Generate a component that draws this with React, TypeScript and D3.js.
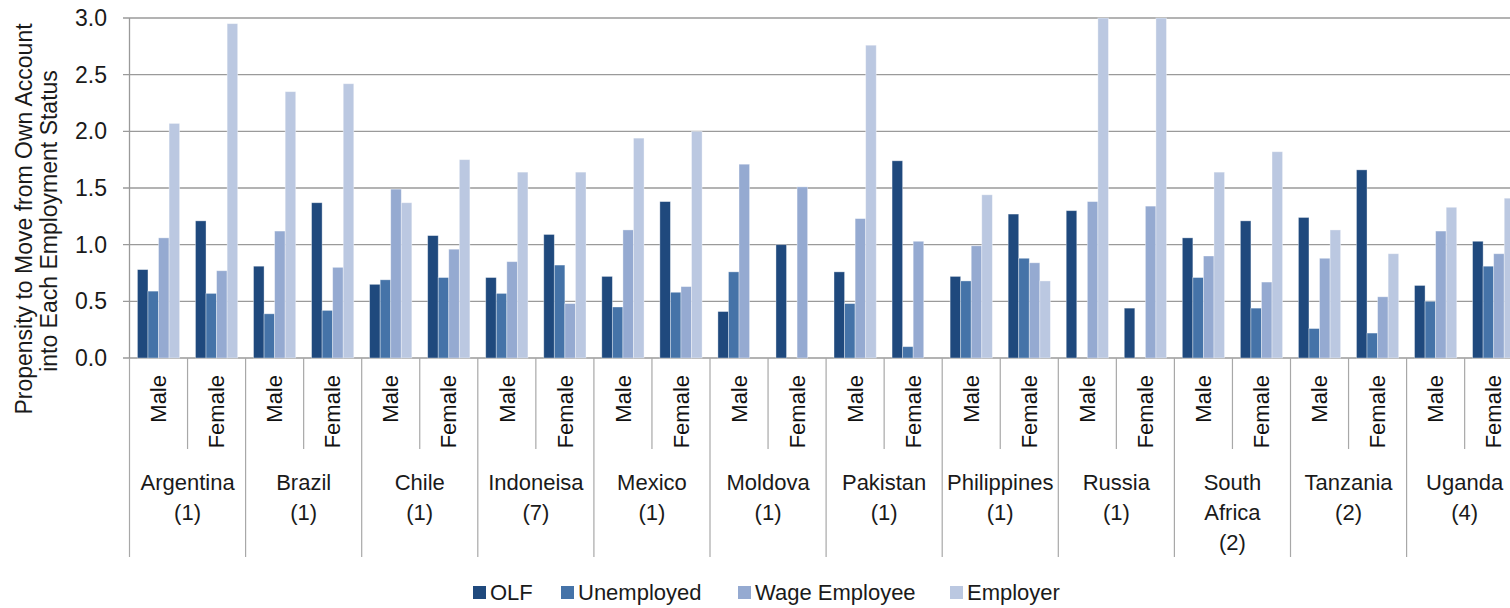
import * as d3 from 'd3';

const countryLabels = [
  ['Argentina', '(1)'],
  ['Brazil', '(1)'],
  ['Chile', '(1)'],
  ['Indoneisa', '(7)'],
  ['Mexico', '(1)'],
  ['Moldova', '(1)'],
  ['Pakistan', '(1)'],
  ['Philippines', '(1)'],
  ['Russia', '(1)'],
  ['South', 'Africa', '(2)'],
  ['Tanzania', '(2)'],
  ['Uganda', '(4)'],
];
const genders = ['Male', 'Female'];

const seriesNames = ['OLF', 'Unemployed', 'Wage Employee', 'Employer'];
const seriesColors = ['#1f497d', '#4573a8', '#95aad1', '#bbc8e1'];

// order: country by country, Male then Female (null = no bar)
const olf = [0.78, 1.21, 0.81, 1.37, 0.65, 1.08, 0.71, 1.09, 0.72, 1.38, 0.41, 1.0,
  0.76, 1.74, 0.72, 1.27, 1.3, 0.44, 1.06, 1.21, 1.24, 1.66, 0.64, 1.03];
const unemployed = [0.59, 0.57, 0.39, 0.42, 0.69, 0.71, 0.57, 0.82, 0.45, 0.58, 0.76, null,
  0.48, 0.1, 0.68, 0.88, null, null, 0.71, 0.44, 0.26, 0.22, 0.5, 0.81];
const wageEmployee = [1.06, 0.77, 1.12, 0.8, 1.49, 0.96, 0.85, 0.48, 1.13, 0.63, 1.71, 1.51,
  1.23, 1.03, 0.99, 0.84, 1.38, 1.34, 0.9, 0.67, 0.88, 0.54, 1.12, 0.92];
const employer = [2.07, 2.95, 2.35, 2.42, 1.37, 1.75, 1.64, 1.64, 1.94, 2.0, null, null,
  2.76, null, 1.44, 0.68, 3.0, 3.0, 1.64, 1.82, 1.13, 0.92, 1.33, 1.41];

const yTicks = [0, 0.5, 1, 1.5, 2, 2.5, 3];

const W = 1510;
const H = 608;
const font = "'Liberation Sans', Arial, sans-serif";

export default function App() {
  const values = [olf, unemployed, wageEmployee, employer];
  const nSlots = countryLabels.length * genders.length;

  const slot = d3.scaleBand<number>().domain(d3.range(nSlots)).range([129.5, 1522.7]).padding(0);
  const inner = d3.scaleBand<string>().domain(seriesNames)
    .range([0, slot.bandwidth()]).paddingInner(0).paddingOuter(0.75);
  const y = d3.scaleLinear().domain([0, 3]).range([358, 18]);
  const fmt = d3.format('.1f');

  const x0 = slot.range()[0];
  const step = slot.step();

  return (
    <svg width={W} height={H} style={{ position: 'absolute', left: 0, top: 0, background: '#fff' }}>
      {/* gridlines */}
      {yTicks.map(t => (
        <g key={t}>
          <line x1={123} x2={W} y1={y(t)} y2={y(t)} stroke="#9a9a9a" strokeWidth={1.3} />
          <text x={107} y={y(t)} dy="0.35em" textAnchor="end" fontFamily={font} fontSize={23} fill="#1a1a1a">
            {fmt(t)}
          </text>
        </g>
      ))}
      <line x1={x0} x2={x0} y1={y(3)} y2={y(0)} stroke="#9a9a9a" strokeWidth={1.3} />

      {/* bars */}
      {values.map((arr, si) => (
        <g key={seriesNames[si]} fill={seriesColors[si]}>
          {arr.map((v, i) => v == null ? null : (
            <rect
              key={i}
              x={slot(i)! + inner(seriesNames[si])!}
              width={inner.bandwidth()}
              y={y(Math.min(v, 3))}
              height={y(0) - y(Math.min(v, 3))}
              stroke="#ffffff"
              strokeOpacity={0.45}
              strokeWidth={0.8}
            />
          ))}
        </g>
      ))}

      {/* category dividers */}
      {d3.range(nSlots + 1).map(k => (
        <line key={k} x1={x0 + k * step} x2={x0 + k * step} y1={358}
          y2={k % 2 === 0 ? 557 : 449} stroke="#a8a8a8" strokeWidth={1.2} />
      ))}

      {/* gender labels */}
      {d3.range(nSlots).map(i => {
        const cx = slot(i)! + slot.bandwidth() / 2;
        return (
          <text key={i} transform={`translate(${cx},375) rotate(-90)`} dy="0.35em" textAnchor="end"
            fontFamily={font} fontSize={22} fill="#111">
            {genders[i % 2]}
          </text>
        );
      })}

      {/* country labels */}
      {countryLabels.map((lines, c) => {
        const cx = x0 + (c * 2 + 1) * step;
        return (
          <text key={c} textAnchor="middle" fontFamily={font} fontSize={22} fill="#1a1a1a">
            {lines.map((l, j) => (
              <tspan key={j} x={cx} y={482 + j * 30} dy="0.35em">{l}</tspan>
            ))}
          </text>
        );
      })}

      {/* y axis title */}
      <text transform="translate(32,219) rotate(-90)" textAnchor="middle" fontFamily={font} fontSize={23} fill="#1a1a1a">
        Propensity to Move from Own Account
      </text>
      <text transform="translate(57,221) rotate(-90)" textAnchor="middle" fontFamily={font} fontSize={23} fill="#1a1a1a">
        into Each Employment Status
      </text>

      {/* legend */}
      {[473, 561, 738, 950].map((lx, si) => (
        <g key={si}>
          <rect x={lx} y={586} width={13} height={13} fill={seriesColors[si]} />
          <text x={lx + 17} y={592} dy="0.35em" fontFamily={font} fontSize={22} fill="#1a1a1a">
            {seriesNames[si]}
          </text>
        </g>
      ))}
    </svg>
  );
}
